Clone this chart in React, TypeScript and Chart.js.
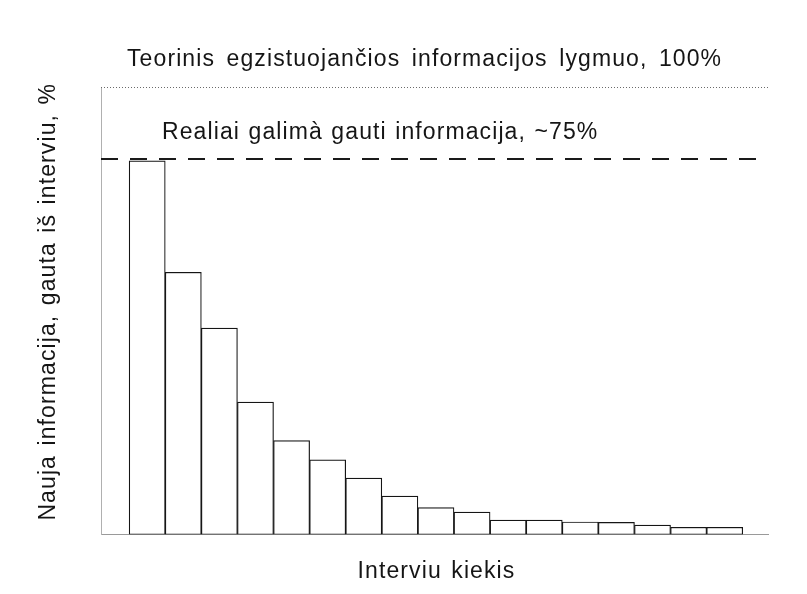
import React, { useEffect, useRef } from "react";
import { Chart, registerables } from "chart.js";

Chart.register(...registerables);

// ---- Data ----
const interviews = [1, 2, 3, 4, 5, 6, 7, 8, 9, 10, 11, 12, 13, 14, 15, 16, 17];
const newInfo = [83.5, 58.6, 46.1, 29.6, 21.0, 16.7, 12.6, 8.6, 6.0, 5.0, 3.2, 3.2, 2.8, 2.7, 2.1, 1.6, 1.6];
const theoreticalLevel = 100;
const realLevel = 83.9;

const titleText = "Teorinis egzistuojančios informacijos lygmuo, 100%";
const realText = "Realiai galimà gauti informacija, ~75%";
const xTitle = "Interviu kiekis";
const yTitle = "Nauja informacija, gauta iš interviu, %";

const FONT = '23px "Liberation Sans", Arial, sans-serif';
const TEXT_COLOR = "#151515";

const refPlugin = {
  id: "refLines",
  afterDatasetsDraw(chart: any) {
    const { ctx, chartArea: a, scales } = chart;
    const y = scales.y;
    const yT = Math.round(y.getPixelForValue(theoreticalLevel)) + 0.5;
    const yR = y.getPixelForValue(realLevel);
    ctx.save();
    // theoretical level, dotted
    ctx.strokeStyle = "#6a6a6a";
    ctx.lineWidth = 1;
    ctx.setLineDash([1, 2]);
    ctx.beginPath();
    ctx.moveTo(a.left, yT);
    ctx.lineTo(a.right, yT);
    ctx.stroke();
    // real level, dashed
    ctx.strokeStyle = "#1a1a1a";
    ctx.lineWidth = 2;
    ctx.setLineDash([17, 12]);
    ctx.beginPath();
    ctx.moveTo(a.left, yR);
    ctx.lineTo(a.right - 2, yR);
    ctx.stroke();
    ctx.setLineDash([]);

    // texts
    ctx.fillStyle = TEXT_COLOR;
    ctx.font = FONT;
    ctx.letterSpacing = "1.1px";
    ctx.textBaseline = "alphabetic";
    ctx.textAlign = "left";
    ctx.wordSpacing = "4px";
    ctx.fillText(titleText, a.left + 26, yT - 22);
    ctx.wordSpacing = "1px";
    ctx.fillText(realText, a.left + 61, yR - 20);
    ctx.wordSpacing = "2px";
    ctx.textAlign = "center";
    ctx.fillText(xTitle, (a.left + a.right) / 2 + 2, a.bottom + 43.5);
    ctx.translate(55, (a.top + a.bottom) / 2 - 9);
    ctx.rotate(-Math.PI / 2);
    ctx.fillText(yTitle, 0, 0);
    ctx.restore();
  },
};

export default function App() {
  const ref = useRef<HTMLCanvasElement | null>(null);

  useEffect(() => {
    if (!ref.current) return;
    const chart = new Chart(ref.current, {
      type: "bar",
      data: {
        datasets: [
          {
            label: "Nauja informacija",
            data: interviews.map((x, i) => ({ x, y: newInfo[i] })),
            backgroundColor: "#ffffff",
            borderColor: "#151515",
            borderWidth: 1.2,
            borderSkipped: false,
            barPercentage: 1,
            categoryPercentage: 1,
          } as any,
        ],
      },
      options: {
        animation: false,
        responsive: false,
        devicePixelRatio: 1,
        layout: { padding: { left: 101, right: 39, top: 87, bottom: 59.5 } },
        plugins: {
          legend: { display: false },
          tooltip: { enabled: false },
          title: { display: false },
        },
        scales: {
          x: {
            type: "linear",
            min: -0.28,
            max: 18.2,
            offset: false,
            ticks: { display: false },
            grid: { display: false, drawTicks: false },
            border: { display: true, color: "#9a9a9a", dash: [1, 2], width: 1 },
          },
          y: {
            min: 0,
            max: 100,
            ticks: { display: false },
            grid: { display: false, drawTicks: false },
            border: { display: true, color: "#b0b0b0", dash: [1, 2], width: 1 },
          },
        },
      },
      plugins: [refPlugin],
    });
    return () => chart.destroy();
  }, []);

  return (
    <div style={{ position: "absolute", left: 0, top: 0, width: 807, height: 594, background: "#fff" }}>
      <canvas ref={ref} width={807} height={594} style={{ display: "block" }} />
    </div>
  );
}
